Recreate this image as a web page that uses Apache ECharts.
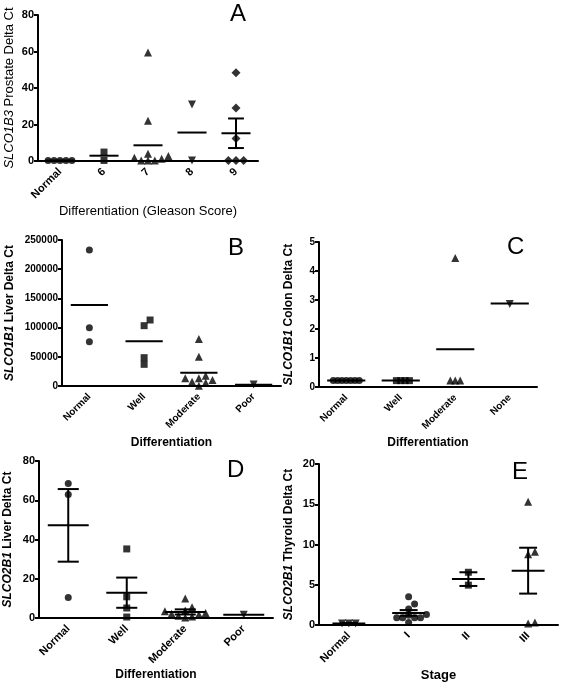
<!DOCTYPE html>
<html><head><meta charset="utf-8">
<script src="https://cdn.jsdelivr.net/npm/echarts@6/dist/echarts.min.js"></script>
<style>html,body{margin:0;padding:0;background:#fff}#c{width:563px;height:687px}</style>
</head><body><div id="c"></div>
<script>
// ---------- Panel A ----------
const catsA = ['Normal', '6', '7', '8', '9'];
const aNormal = [0.3, 0.3, 0.3, 0.3, 0.3];
const aG6 = [0.3, 4.9];
const aG7 = [59.5, 22, 4.0, 2.7, 1.8, 1.3, 0.3, 0.3, 0.3];
const aG8 = [31, 0.3];
const aG9 = [48.4, 29.1, 12.3, 0.3, 0.3, 0.3];
const aMean = [0.3, 2.9, 8.6, 15.6, 15.2];
const aSem = [0, 0, 0, 0, 8.1];
const aTicks = [0, 20, 40, 60, 80];
// ---------- Panel B ----------
const catsB = ['Normal', 'Well', 'Moderate', 'Poor'];
const bNormal = [232900, 99800, 75900];
const bWell = [113000, 103300, 48500, 37100];
const bModerate = [80500, 50200, 17600, 13200, 13200, 10300, 7400, 5700, 500];
const bPoor = [2500];
const bMean = [138700, 76500, 22800, 2200];
const bSem = [0, 0, 0, 0];
const bTicks = [0, 50000, 100000, 150000, 200000, 250000];
// ---------- Panel C ----------
const catsC = ['Normal', 'Well', 'Moderate', 'None'];
const cNormal = [0.22, 0.22, 0.22, 0.22, 0.22, 0.22, 0.22];
const cWell = [0.22, 0.22, 0.22, 0.22];
const cModerate = [4.45, 0.22, 0.22, 0.22];
const cNone = [2.86];
const cMean = [0.22, 0.22, 1.30, 2.88];
const cSem = [0, 0, 0, 0];
const cTicks = [0, 1, 2, 3, 4, 5];
// ---------- Panel D ----------
const catsD = ['Normal', 'Well', 'Moderate', 'Poor'];
const dNormal = [68.5, 62.9, 10.5];
const dWell = [35.2, 10.8, 5.1, 0.5];
const dModerate = [10, 5.5, 3.8, 3.5, 2.5, 2.2, 1.8, 1.2, 0.8, 0.3];
const dPoor = [1.7];
const dMean = [47.2, 12.9, 3.1, 1.7];
const dSem = [18.5, 7.7, 1.3, 0];
const dTicks = [0, 20, 40, 60, 80];
// ---------- Panel E ----------
const catsE = ['Normal', 'I', 'II', 'III'];
const eNormal = [0.2, 0.2, 0.2];
const eI = [3.5, 2.6, 2.0, 1.3, 1.2, 0.9, 0.9, 0.9, 0.9, 0.3];
const eII = [6.55, 4.95];
const eIII = [15.3, 9.1, 8.8, 0.2, 0.3];
const eMean = [0.2, 1.5, 5.7, 6.75];
const eSem = [0.05, 0.35, 0.85, 2.85];
const eTicks = [0, 5, 10, 15, 20];

const FONT = '"Liberation Sans", Arial, sans-serif';
const SYM = {
  circle: {symbol: 'circle', rot: 0, size: 7},
  square: {symbol: 'rect', rot: 0, size: 7},
  tri: {symbol: 'triangle', rot: 0, size: 8},
  inv: {symbol: 'triangle', rot: 180, size: 8},
  dia: {symbol: 'diamond', rot: 0, size: 9}
};

const panels = [
  {grid: {left: 38, top: 15, width: 220, height: 146}, cats: catsA,
   groups: [[aNormal, 'circle'], [aG6, 'square'], [aG7, 'tri'], [aG8, 'inv'], [aG9, 'dia']],
   mean: aMean, sem: aSem, ticks: aTicks, meanFrac: 0.66, capFrac: 0.36, spread: 0.85,
   yName: '{i|SLCO1B3} Prostate Delta Ct', yBold: 'normal', yNameSize: 13, yGap: 22,
   xName: 'Differentiation (Gleason Score)', xBold: 'normal', xNameSize: 13, xGap: 44,
   tickSize: 11, letter: 'A', lx: 238, ly: 14},
  {grid: {left: 62, top: 240, width: 219, height: 146}, cats: catsB,
   groups: [[bNormal, 'circle'], [bWell, 'square'], [bModerate, 'tri'], [bPoor, 'inv']],
   mean: bMean, sem: bSem, ticks: bTicks, meanFrac: 0.68, capFrac: 0.36, spread: 0.85,
   yName: '{i|SLCO1B1} Liver Delta Ct', yBold: 'bold', yNameSize: 12, yGap: 46,
   xName: 'Differentiation', xBold: 'bold', xNameSize: 12, xGap: 51,
   tickSize: 10, letter: 'B', lx: 236, ly: 248},
  {grid: {left: 319, top: 242, width: 218, height: 145}, cats: catsC,
   groups: [[cNormal, 'circle'], [cWell, 'square'], [cModerate, 'tri'], [cNone, 'inv']],
   mean: cMean, sem: cSem, ticks: cTicks, meanFrac: 0.7, capFrac: 0.36, spread: 0.62,
   yName: '{i|SLCO1B1} Colon Delta Ct', yBold: 'bold', yNameSize: 12, yGap: 24,
   xName: 'Differentiation', xBold: 'bold', xNameSize: 12, xGap: 50,
   tickSize: 10, letter: 'C', lx: 515, ly: 247},
  {grid: {left: 39, top: 461, width: 234, height: 157}, cats: catsD,
   groups: [[dNormal, 'circle'], [dWell, 'square'], [dModerate, 'tri'], [dPoor, 'inv']],
   mean: dMean, sem: dSem, ticks: dTicks, meanFrac: 0.7, capFrac: 0.36, spread: 0.85,
   yName: '{i|SLCO2B1} Liver Delta Ct', yBold: 'bold', yNameSize: 12, yGap: 25,
   xName: 'Differentiation', xBold: 'bold', xNameSize: 12, xGap: 40,
   tickSize: 11, letter: 'D', lx: 235, ly: 470},
  {grid: {left: 319, top: 464, width: 239, height: 161}, cats: catsE,
   groups: [[eNormal, 'inv'], [eI, 'circle'], [eII, 'square'], [eIII, 'tri']],
   mean: eMean, sem: eSem, ticks: eTicks, meanFrac: 0.55, capFrac: 0.3, spread: 0.85,
   yName: '{i|SLCO2B1} Thyroid Delta Ct', yBold: 'bold', yNameSize: 12, yGap: 24,
   xName: 'Stage', xBold: 'bold', xNameSize: 13, xGap: 44,
   tickSize: 11, letter: 'E', lx: 520, ly: 472}
];

// simple beeswarm layout: horizontal pixel offsets so overlapping markers sit side by side
function swarm(values, pxPerUnit, d) {
  const order = values.map((v, i) => i).sort((a, b) => values[a] - values[b]);
  const placed = [];
  const off = new Array(values.length).fill(0);
  order.forEach(i => {
    const y = values[i] * pxPerUnit;
    for (let k = 0; k < 40; k++) {
      const step = k === 0 ? 0 : (k % 2 ? Math.ceil(k / 2) : -Math.ceil(k / 2));
      const x = step * d;
      const hit = placed.some(p => Math.hypot(p[0] - x, p[1] - y) < d * 0.98);
      if (!hit) { placed.push([x, y]); off[i] = x; break; }
    }
  });
  return off;
}

const grids = [], xAxes = [], yAxes = [], series = [], graphics = [];
panels.forEach((p, pi) => {
  grids.push(p.grid);
  const ymin = p.ticks[0], ymax = p.ticks[p.ticks.length - 1];
  const interval = p.ticks[1] - p.ticks[0];
  const ppu = p.grid.height / (ymax - ymin);
  xAxes.push({
    type: 'category', gridIndex: pi, data: p.cats, boundaryGap: true,
    axisLine: {lineStyle: {color: '#000', width: 2}},
    axisTick: {alignWithLabel: true, length: 5, lineStyle: {color: '#000', width: 2}},
    axisLabel: {rotate: 45, color: '#000', fontWeight: 'bold', fontSize: p.tickSize, fontFamily: FONT, margin: 9, interval: 0},
    name: p.xName, nameLocation: 'middle', nameGap: p.xGap,
    nameTextStyle: {color: '#000', fontWeight: p.xBold, fontSize: p.xNameSize, fontFamily: FONT},
    splitLine: {show: false}
  });
  yAxes.push({
    type: 'value', gridIndex: pi, min: ymin, max: ymax, interval: interval,
    axisLine: {show: true, onZero: false, lineStyle: {color: '#000', width: 2}},
    axisTick: {show: true, length: 4, lineStyle: {color: '#000', width: 2}},
    axisLabel: {color: '#000', fontWeight: 'bold', fontSize: p.tickSize, fontFamily: FONT, margin: 4,
      formatter: v => String(v)},
    splitLine: {show: false},
    name: p.yName, nameLocation: 'middle', nameGap: p.yGap, nameRotate: 90,
    nameTextStyle: {color: '#000', fontWeight: p.yBold, fontSize: p.yNameSize, fontFamily: FONT,
      rich: {i: {fontStyle: 'italic', fontWeight: p.yBold, fontSize: p.yNameSize, fontFamily: FONT, color: '#000'}}}
  });
  p.groups.forEach((g, ci) => {
    const vals = g[0], s = SYM[g[1]];
    const off = swarm(vals, ppu, s.size * p.spread);
    series.push({
      type: 'scatter', xAxisIndex: pi, yAxisIndex: pi,
      symbol: s.symbol, symbolSize: s.size, symbolRotate: s.rot,
      itemStyle: {color: '#000'}, z: 3, silent: true,
      data: vals.map((v, k) => ({value: [ci, v], symbolOffset: [off[k], 0]}))
    });
  });
  series.push({
    type: 'custom', xAxisIndex: pi, yAxisIndex: pi, z: 4, silent: true,
    data: p.mean.map((m, ci) => [ci, m, p.sem[ci]]),
    renderItem: function (params, api) {
      const x = api.value(0), m = api.value(1), s = api.value(2);
      const c = api.coord([x, m]);
      const bw = api.size([1, 0])[0];
      const half = bw * p.meanFrac / 2;
      const st = {stroke: '#000', lineWidth: 2, fill: null};
      const ch = [{type: 'line', shape: {x1: c[0] - half, y1: c[1], x2: c[0] + half, y2: c[1]}, style: st}];
      if (s > 0) {
        const t = api.coord([x, m + s]), b = api.coord([x, m - s]);
        const cap = bw * p.capFrac / 2;
        ch.push({type: 'line', shape: {x1: c[0], y1: t[1], x2: c[0], y2: b[1]}, style: st});
        ch.push({type: 'line', shape: {x1: c[0] - cap, y1: t[1], x2: c[0] + cap, y2: t[1]}, style: st});
        ch.push({type: 'line', shape: {x1: c[0] - cap, y1: b[1], x2: c[0] + cap, y2: b[1]}, style: st});
      }
      return {type: 'group', children: ch};
    }
  });
  graphics.push({type: 'text', left: p.lx - 8, top: p.ly - 12,
    style: {text: p.letter, font: '24px ' + FONT, fill: '#000'}});
});

const chart = echarts.init(document.getElementById('c'), null, {renderer: 'canvas'});
chart.setOption({
  animation: false, backgroundColor: '#fff',
  grid: grids, xAxis: xAxes, yAxis: yAxes, series: series, graphic: graphics
});
</script></body></html>
